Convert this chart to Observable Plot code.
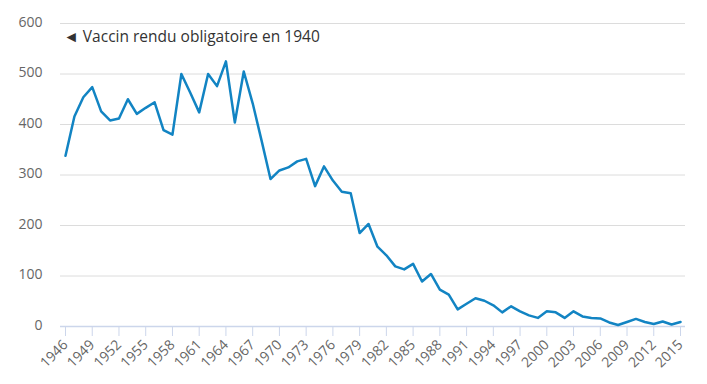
<!DOCTYPE html>
<html>
<head>
<meta charset="utf-8">
<script src="https://cdn.jsdelivr.net/npm/d3@7"></script>
<script src="https://cdn.jsdelivr.net/npm/@observablehq/plot@0.6"></script>
<style>
  html, body { margin: 0; padding: 0; background: #fff; }
  #chart svg { display: block; }
</style>
</head>
<body>
<div id="chart"></div>
<script>
const years = [
  1946, 1947, 1948, 1949, 1950, 1951, 1952, 1953, 1954, 1955,
  1956, 1957, 1958, 1959, 1960, 1961, 1962, 1963, 1964, 1965,
  1966, 1967, 1968, 1969, 1970, 1971, 1972, 1973, 1974, 1975,
  1976, 1977, 1978, 1979, 1980, 1981, 1982, 1983, 1984, 1985,
  1986, 1987, 1988, 1989, 1990, 1991, 1992, 1993, 1994, 1995,
  1996, 1997, 1998, 1999, 2000, 2001, 2002, 2003, 2004, 2005,
  2006, 2007, 2008, 2009, 2010, 2011, 2012, 2013, 2014, 2015
];
const cases = [
  338, 416, 454, 474, 426, 408, 412, 450, 421, 433,
  444, 389, 380, 500, 463, 424, 500, 476, 525, 404,
  505, 442, 368, 292, 309, 315, 327, 332, 278, 317,
  289, 267, 264, 185, 203, 158, 141, 119, 113, 124,
  89, 104, 73, 63, 34, 45, 56, 51, 42, 28,
  40, 30, 22, 17, 30, 28, 17, 30, 20, 17,
  16, 8, 3, 9, 15, 9, 5, 10, 4, 9
];
const xTicks = [1946, 1949, 1952, 1955, 1958, 1961, 1964, 1967, 1970, 1973, 1976, 1979, 1982, 1985, 1988, 1991, 1994, 1997, 2000, 2003, 2006, 2009, 2012, 2015];
const yTicks = [0, 100, 200, 300, 400, 500, 600];
const annotation = "◄ Vaccin rendu obligatoire en 1940";

const data = years.map((y, i) => ({year: y, value: cases[i]}));

const chart = Plot.plot({
  width: 707,
  height: 384,
  marginLeft: 60,
  marginRight: 22,
  marginTop: 23,
  marginBottom: 58,
  style: {fontFamily: "'Open Sans', sans-serif", fontSize: "14px", background: "#fff"},
  x: {domain: [1946, 2015], range: [65, 680]},
  y: {domain: [0, 600]},
  marks: [
    Plot.gridY(yTicks.filter(d => d > 0), {stroke: "#dcdcdc", strokeOpacity: 1}),
    Plot.ruleY([0], {stroke: "#ccd6eb", strokeWidth: 1.5}),
    Plot.axisY({ticks: yTicks, tickSize: 0, tickPadding: 18, dy: -1, fill: "#666", label: null, fontSize: 14}),
    Plot.axisX({ticks: xTicks, tickSize: 10, tickPadding: 6, tickRotate: -45, tickFormat: "d",
                stroke: "#ccd6eb", fill: "#666", label: null, fontSize: 14}),
    Plot.line(data, {x: "year", y: "value", stroke: "#1284c3", strokeWidth: 2.5, strokeLinejoin: "round", strokeLinecap: "round"}),
    Plot.text([annotation], {frameAnchor: "top-left", dx: 3, dy: 14, lineAnchor: "middle", textAnchor: "start", fill: "#333", fontSize: 15.5})
  ]
});
document.getElementById("chart").appendChild(chart);
</script>
</body>
</html>
